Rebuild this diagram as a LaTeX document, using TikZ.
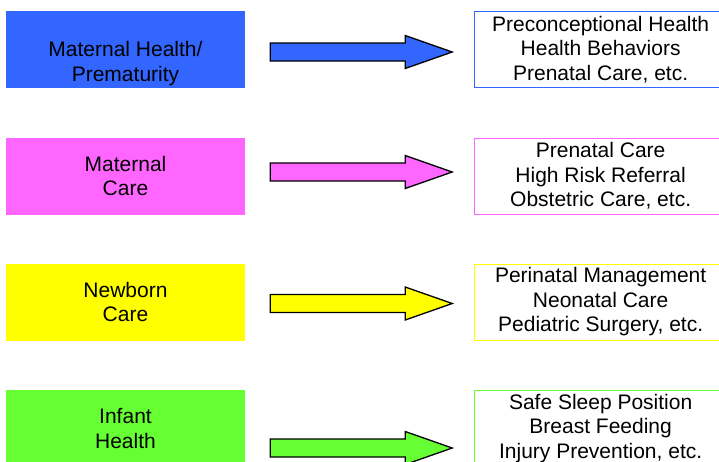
\documentclass[tikz,border=0pt]{standalone}
\usepackage{fontspec}
\setmainfont{Liberation Sans}
\usepackage{xcolor}
\usetikzlibrary{positioning}

\definecolor{mblue}{HTML}{3366FF}
\definecolor{mpink}{HTML}{FF66FF}
\definecolor{myellow}{HTML}{FFFF00}
\definecolor{mgreen}{HTML}{66FF33}

\begin{document}
\begin{tikzpicture}[
		x=1pt,y=-1pt,
		node distance=229pt,
		leftbox/.style={
			rectangle,
			minimum width=239pt,
			minimum height=77pt,
			inner sep=0pt,
			align=center,
			font=\fontsize{21}{24.5}\selectfont
		},
		rightbox/.style={
			rectangle,
			line width=0.9pt,
			minimum width=252pt,
			minimum height=76pt,
			inner sep=0pt,
			align=center,
			font=\fontsize{21}{24.5}\selectfont
		},
		blockarrow/.style={
			draw=black,
			line width=1.3pt,
			line join=miter
		}
		]
		\useasboundingbox (0,0) rectangle (719,461);
		
		% Topic boxes on the left
		\node[leftbox, fill=mblue,
			label={[leftbox, minimum height=0pt, yshift=-14pt]center:Maternal Health/\\Prematurity}] (m1) at (125.5,49.5) {};
		\node[leftbox, fill=mpink] (m2) at (125.5,176) {Maternal\\Care};
		\node[leftbox, fill=myellow] (m3) at (125.5,302) {Newborn\\Care};
		\node[leftbox, fill=mgreen] (m4) at (125.5,428.5) {Infant\\Health};
		
		% Matching boxes on the right
		\node[rightbox, draw=mblue, right=of m1] (r1) {Preconceptional Health\\Health Behaviors\\Prenatal Care, etc.};
		\node[rightbox, draw=mpink, right=of m2] (r2) {Prenatal Care\\High Risk Referral\\Obstetric Care, etc.};
		\node[rightbox, draw=myellow, right=of m3] (r3) {Perinatal Management\\Neonatal Care\\Pediatric Surgery, etc.};
		\node[rightbox, draw=mgreen, right=of m4] (r4) {Safe Sleep Position\\Breast Feeding\\Injury Prevention, etc.};
		
		% Block arrows between them
		\draw[blockarrow, fill=mblue] ([xshift=25pt,yshift=-2.5pt]m1.east) +(0,-9) -- +(135,-9) -- +(135,-16.5)
			-- ([xshift=-22pt,yshift=-2.5pt]r1.west) -- +(-47,16.5) -- +(-47,9) -- ([xshift=25pt,yshift=-11.5pt]m1.east) -- cycle;
		\draw[blockarrow, fill=mpink] ([xshift=25pt,yshift=4pt]m2.east) +(0,-9) -- +(135,-9) -- +(135,-16.5)
			-- ([xshift=-22pt,yshift=4pt]r2.west) -- +(-47,16.5) -- +(-47,9) -- ([xshift=25pt,yshift=-5pt]m2.east) -- cycle;
		\draw[blockarrow, fill=myellow] ([xshift=25pt,yshift=-1.5pt]m3.east) +(0,-9) -- +(135,-9) -- +(135,-16.5)
			-- ([xshift=-22pt,yshift=-1.5pt]r3.west) -- +(-47,16.5) -- +(-47,9) -- ([xshift=25pt,yshift=-10.5pt]m3.east) -- cycle;
		\draw[blockarrow, fill=mgreen] ([xshift=25pt,yshift=-19.5pt]m4.east) +(0,-9) -- +(135,-9) -- +(135,-16.5)
			-- ([xshift=-22pt,yshift=-19.5pt]r4.west) -- +(-47,16.5) -- +(-47,9) -- ([xshift=25pt,yshift=-28.5pt]m4.east) -- cycle;
	\end{tikzpicture}
\end{document}
